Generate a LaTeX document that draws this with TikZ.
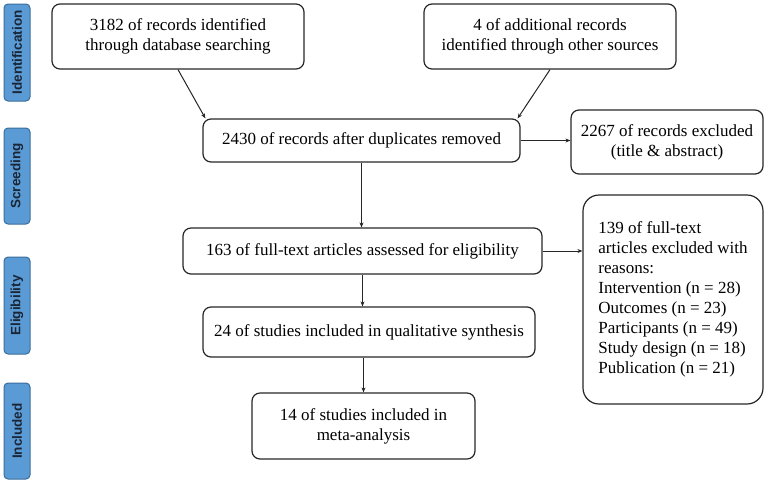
\documentclass[tikz,border=0pt]{standalone}
\usepackage{fontspec}
\setmainfont{Liberation Serif}
\newfontfamily\sidefont{Liberation Sans}
\usetikzlibrary{arrows.meta,calc}
\definecolor{sidefill}{HTML}{5B9BD5}
\definecolor{sideedge}{HTML}{3A6D9C}
\definecolor{sidetext}{HTML}{1A2636}
\begin{document}
\begin{tikzpicture}[x=1pt,y=-1pt,
  box/.style={draw=black!85, line width=1.2pt, rounded corners=8pt, align=center,
    inner sep=0pt, font=\fontsize{17}{20}\selectfont},
  sidebox/.style={draw=sideedge, fill=sidefill, line width=1pt, rounded corners=4pt,
    minimum width=26pt, inner sep=0pt, font=\sidefont\bfseries\fontsize{13.5}{15}\selectfont,
    text=sidetext},
  arr/.style={draw=black!85, line width=1pt, -{Stealth[length=5pt,width=4pt]}}]
\useasboundingbox (0,0) rectangle (767,483);
% side labels
\node[sidebox, minimum height=97pt] (sid) at (17,52.5) {\rotatebox{90}{Identification}};
\node[sidebox, minimum height=96pt] (ssc) at (17,176) {\rotatebox{90}{Screeding}};
\node[sidebox, minimum height=97pt] (sel) at (17,305.5) {\rotatebox{90}{Eligibility}};
\node[sidebox, minimum height=96pt] (sin) at (17,431) {\rotatebox{90}{Included}};
% boxes
\node[box, minimum width=252pt, minimum height=65pt] (b1) at (178,36.5)
  {3182 of records identified\\through database searching};
\node[box, minimum width=252pt, minimum height=65pt] (b2) at (550,36.5)
  {4 of additional records\\identified through other sources};
\node[box, minimum width=317pt, minimum height=43pt] (b3) at (361.5,140.5)
  {2430 of records after duplicates removed};
\node[box, minimum width=192pt, minimum height=64pt] (b4) at (667,142)
  {2267 of records excluded\\(title \& abstract)};
\node[box, minimum width=359pt, minimum height=46pt] (b5) at (362.5,251)
  {163 of full-text articles assessed for eligibility};
\node[box, minimum width=332pt, minimum height=50pt] (b6) at (369,332)
  {24 of studies included in qualitative synthesis};
\node[box, minimum width=223pt, minimum height=66pt] (b7) at (363.5,426)
  {14 of studies included in\\meta-analysis};
\node[box, rounded corners=16pt, minimum width=180pt, minimum height=209pt,
  align=left] (b8) at (673,299.5)
  {139 of full-text\\articles excluded with\\reasons:\\Intervention (n = 28)\\Outcomes (n = 23)\\Participants (n = 49)\\Study design (n = 18)\\Publication (n = 21)};
% connectors
\draw[arr] (b1.south) -- ([xshift=3pt]b3.north west);
\draw[arr] (b2.south) -- ([xshift=-3pt]b3.north east);
\draw[arr] (b3.east) -- (b3.east -| b4.west);
\draw[arr] (b3.south) -- (b3.south |- b5.north);
\draw[arr] (b5.south) -- (b5.south |- b6.north);
\draw[arr] (b7.north |- b6.south) -- (b7.north);
\draw[arr] (b5.east) -- (b5.east -| b8.west);
\end{tikzpicture}
\end{document}
